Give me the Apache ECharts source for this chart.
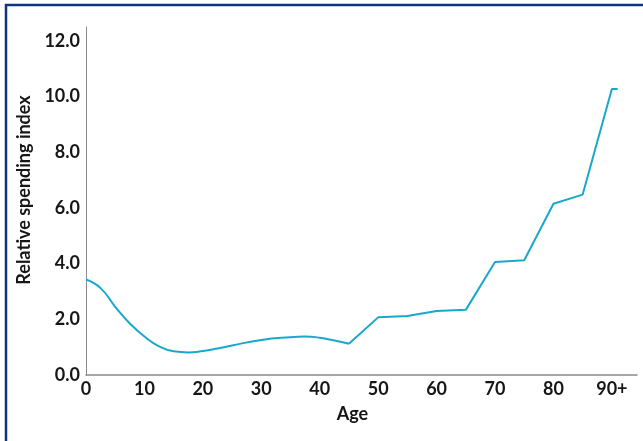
<!DOCTYPE html>
<html>
<head>
<meta charset="utf-8">
<script src="https://cdn.jsdelivr.net/npm/echarts@6/dist/echarts.min.js"></script>
<style>
html,body{margin:0;padding:0;background:#fff;}
#chart{width:643px;height:441px;}
</style>
</head>
<body>
<div id="chart"></div>
<script>
// Ages 0-45: smooth part of the curve
const youngAges   = [0, 2.5, 5, 7.5, 10, 12.5, 15, 17.5, 20, 22.5, 25, 30, 35, 37.5, 40, 42.5, 45];
const youngValues = [3.43, 3.12, 2.45, 1.85, 1.38, 1.03, 0.85, 0.81, 0.86, 0.95, 1.06, 1.26, 1.36, 1.38, 1.34, 1.24, 1.12];
// Ages 45-90+: straight segments
const olderAges   = [45, 50, 55, 60, 65, 70, 75, 80, 85, 90, 91];
const olderValues = [1.12, 2.07, 2.12, 2.30, 2.34, 4.06, 4.12, 6.15, 6.48, 10.27, 10.27];
// Tick labels
const xTickValues = [0, 10, 20, 30, 40, 50, 60, 70, 80, 90];
const xTickLabels = ['0', '10', '20', '30', '40', '50', '60', '70', '80', '90+'];
const yTickValues = [0, 2, 4, 6, 8, 10, 12];
const yTickLabels = ['0.0', '2.0', '4.0', '6.0', '8.0', '10.0', '12.0'];

const lineColor = '#18a9ca';
const font = 'Lato, "Open Sans", sans-serif';
const textColor = '#161616';

const chart = echarts.init(document.getElementById('chart'));
chart.setOption({
  backgroundColor: '#ffffff',
  animation: false,
  graphic: [{
    type: 'rect',
    shape: { x: 6, y: 5, width: 700, height: 500 },
    style: { fill: 'none', stroke: '#10347f', lineWidth: 2.5 },
    silent: true
  }],
  grid: { left: 86, right: 6, top: 27, bottom: 66, containLabel: false },
  xAxis: {
    type: 'value',
    min: 0, max: 94.3, interval: 10,
    name: 'Age',
    nameLocation: 'middle',
    nameGap: 30,
    nameTextStyle: { fontFamily: font, fontWeight: 'bold', fontSize: 18, color: textColor, padding: [0, 18, 0, 0] },
    axisLine: { show: true, lineStyle: { color: '#8a8a8a', width: 1.5 } },
    axisTick: { show: false },
    splitLine: { show: false },
    axisLabel: {
      showMaxLabel: false,
      margin: 5,
      fontFamily: font, fontWeight: 'bold', fontSize: 18, color: textColor,
      formatter: function (v) {
        const i = xTickValues.indexOf(v);
        return i >= 0 ? xTickLabels[i] : '';
      }
    }
  },
  yAxis: {
    type: 'value',
    min: 0, max: 12.5, interval: 2,
    name: 'Relative spending index',
    nameLocation: 'middle',
    nameGap: 51,
    nameTextStyle: { fontFamily: font, fontWeight: 'bold', fontSize: 18, color: textColor, padding: [0, 0, 0, 22] },
    axisLine: { show: true, lineStyle: { color: '#8a8a8a', width: 1 } },
    axisTick: { show: false },
    splitLine: { show: false },
    axisLabel: {
      showMaxLabel: false,
      margin: 6,
      fontFamily: font, fontWeight: 'bold', fontSize: 18, color: textColor,
      formatter: function (v) {
        const i = yTickValues.indexOf(v);
        return i >= 0 ? yTickLabels[i] : '';
      }
    }
  },
  series: [
    {
      type: 'line',
      data: youngAges.map((a, i) => [a, youngValues[i]]),
      smooth: 0.5,
      showSymbol: false,
      lineStyle: { color: lineColor, width: 2 },
      itemStyle: { color: lineColor }
    },
    {
      type: 'line',
      data: olderAges.map((a, i) => [a, olderValues[i]]),
      smooth: false,
      showSymbol: false,
      lineStyle: { color: lineColor, width: 2 },
      itemStyle: { color: lineColor }
    }
  ]
});
</script>
</body>
</html>
